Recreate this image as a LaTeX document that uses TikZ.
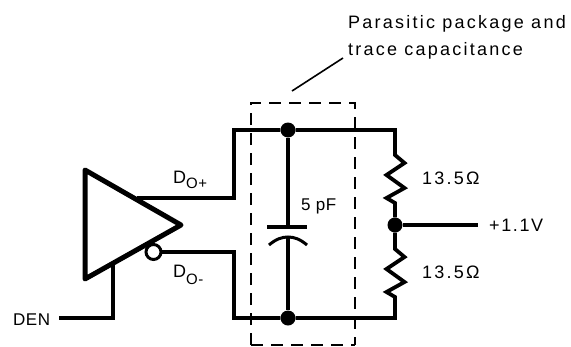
\documentclass[tikz,border=0pt]{standalone}
\usepackage{fontspec}
\setmainfont{Liberation Sans}
\newfontfamily\lbl[LetterSpace=12.5]{Liberation Sans}
\newfontfamily\lbltight[LetterSpace=3]{Liberation Sans}
\newfontfamily\lblmid[LetterSpace=9]{Liberation Sans}
\tikzset{
  wire/.style={line width=3.8pt,line cap=butt,line join=miter},
  thin wire/.style={line width=3.2pt},
  dot/.style={circle,fill=black,inner sep=0pt,minimum size=15pt},
  bubble/.style={circle,draw=black,fill=white,line width=3pt,inner sep=0pt,minimum size=15pt},
  dash box/.style={line width=2.6pt,dash pattern=on 12pt off 8pt},
  txt/.style={inner sep=0pt,anchor=base west,font=\fontsize{18}{20}\selectfont\lbl},
  midtxt/.style={inner sep=0pt,anchor=base west,font=\fontsize{18}{20}\selectfont\lblmid},
  tight/.style={inner sep=0pt,anchor=base west,font=\fontsize{17}{20}\selectfont\lbltight},
  sub/.style={inner sep=0pt,anchor=base west,font=\fontsize{15}{17}\selectfont\lbltight},
}
\begin{document}
\begin{tikzpicture}[x=1pt,y=-1pt]
\useasboundingbox (0,0) rectangle (571,346);
\fill[white] (0,0) rectangle (571,346);
% junctions and free ends
\node[dot] (top) at (288,130) {};
\node[dot] (bot) at (288,318) {};
\node[dot] (mid) at (395,225) {};
\coordinate (tr) at (395,130);
\coordinate (br) at (395,318);
\coordinate (tl) at (234,130);
\coordinate (bl) at (234,318);
\coordinate (upin) at (137,198);
\coordinate (upk) at (234,198);
\coordinate (lok) at (234,252);
\coordinate (ena) at (113,264);
\coordinate (enb) at (113,318);
\coordinate (den) at (59,318);
\coordinate (out) at (478,225);
\coordinate (plA) at (288,227);
\coordinate (plB) at (288,237);
\coordinate (leadA) at (292,91);
\coordinate (leadB) at (343,58);
% dashed box
\draw[dash box] (251,345) -- (251,103) -- (355,103) -- (355,345);
\draw[dash box] (251,345) -- (355,345);
% leader
\draw[line width=1.6pt] (leadA) -- (leadB);
% wires
\draw[wire] (upin) -- (upk) -- (tl) -- (top) -- (tr) -- (395,155)
  -- (404.5,163) -- (386.5,175) -- (404.5,188) -- (386.5,198) -- (395,203) -- (mid);
\draw[wire] (mid) -- (395,249) -- (404.5,257) -- (386.5,269) -- (404.5,282) -- (386.5,292) -- (395,297) -- (br) -- (bot) -- (bl) -- (lok) -- (160,252);
\draw[thin wire] (top) -- (plA);
\draw[thin wire] (plB) -- (bot);
\draw[wire] (mid) -- (out);
\draw[wire] (ena) -- (enb) -- (den);
% capacitor
\draw[wire] (267,227) -- (307,227);
\draw[line width=3pt] (269,245) .. controls (276,239) and (282,237) .. (288,237) .. controls (294,237) and (300,239) .. (307,245);
% driver
\draw[line width=5pt,line join=round,fill=white] (85,170) -- (85,279) -- (181,225) -- cycle;
\node[bubble] (inv) at (153.5,252) {};
% labels
\node[txt] (l1) at (348,28) {Parasitic package and};
\node[txt] (l2) at (348,55) {trace capacitance};
\node[tight] (cv) at (301,210) {5 pF};
\node[txt] (r1) at (422,184) {13.5Ω};
\node[txt] (r2) at (422,278) {13.5Ω};
\node[midtxt] (vv) at (489,231) {+1.1V};
\node[tight] (dn) at (13,325) {DEN};
\node[txt] (dp) at (173,183) {D};
\node[sub] (dps) at (186,188) {O+};
\node[txt] (dm) at (173,277) {D};
\node[sub] (dms) at (186,284) {O-};
\end{tikzpicture}
\end{document}
